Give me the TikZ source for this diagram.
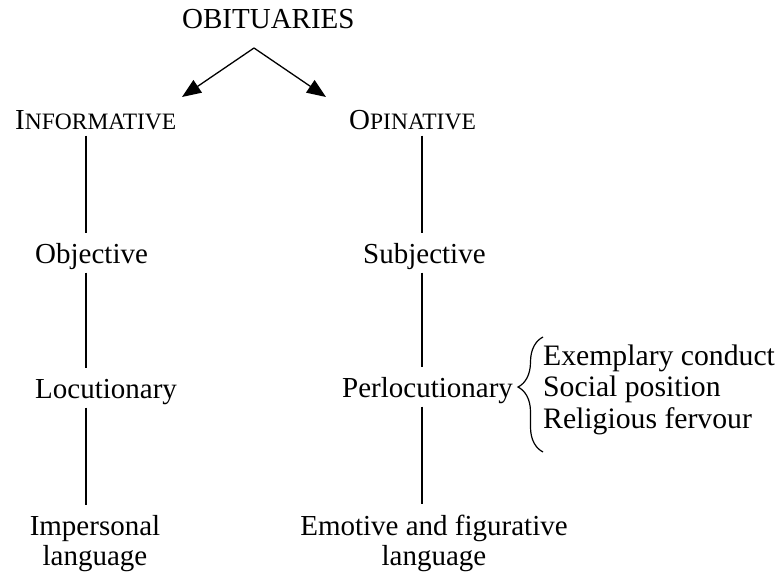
\documentclass[tikz,border=0pt]{standalone}
\usepackage{fontspec}
\setmainfont{Liberation Serif}
\usetikzlibrary{arrows.meta,decorations.pathreplacing}
\newcommand\bigsz{\fontsize{29}{30}\selectfont}
\newcommand\scsz{\fontsize{23.5}{30}\selectfont}
\begin{document}
\begin{tikzpicture}[x=1pt,y=-1pt,
  txt/.style={inner sep=0pt, font=\bigsz, anchor=base west},
  topbox/.style={txt, text depth=5.5pt},
  midbox/.style={txt, text height=30pt, text depth=9.5pt},
  botbox/.style={inner xsep=0pt, inner ysep=10pt, font=\bigsz, align=center, anchor=base},
  ln/.style={line width=1.3pt},
  arr/.style={line width=1.3pt, -{Triangle[length=19pt,width=15pt]}},
  brc/.style={line width=1.2pt, decorate, decoration={brace, amplitude=25pt, aspect=0.565}}]
\useasboundingbox (0,0) rectangle (776,575);
\coordinate (lineL) at (86,0);
\coordinate (lineR) at (422,0);
\node[txt] (obit) at (182,29) {OBITUARIES};
\coordinate (apex) at (254,48);
\coordinate (tipL) at (182,97);
\coordinate (tipR) at (326,97);
\draw[arr] (apex) -- (tipL);
\draw[arr] (apex) -- (tipR);
\node[topbox] (inf) at (15,130) {I{\scsz NFORMATIVE}};
\node[topbox] (opi) at (349,130) {O{\scsz PINATIVE}};
\node[midbox] (obj) at (35,263) {Objective};
\node[midbox] (sub) at (363,263) {Subjective};
\node[midbox] (loc) at (35,398) {Locutionary};
\node[midbox] (per) at (342,397) {Perlocutionary};
\node[botbox] (imp) at (95,565) {Impersonal\\language};
\node[botbox] (emo) at (434,565) {Emotive and figurative\\language};
\node[inner sep=0pt, font=\fontsize{29.7}{31.5}\selectfont, align=left, anchor=base west] (items) at (543,428) {Exemplary conduct\\Social position\\Religious fervour};
\draw[ln] (inf.south -| lineL) -- (obj.north -| lineL);
\draw[ln] (obj.south -| lineL) -- (loc.north -| lineL);
\draw[ln] (loc.south -| lineL) -- (imp.north -| lineL);
\draw[ln] (opi.south -| lineR) -- (sub.north -| lineR);
\draw[ln] (sub.south -| lineR) -- (per.north -| lineR);
\draw[ln] (per.south -| lineR) -- (emo.north -| lineR);
\draw[brc] (543,452) -- (543,337);
\end{tikzpicture}
\end{document}
